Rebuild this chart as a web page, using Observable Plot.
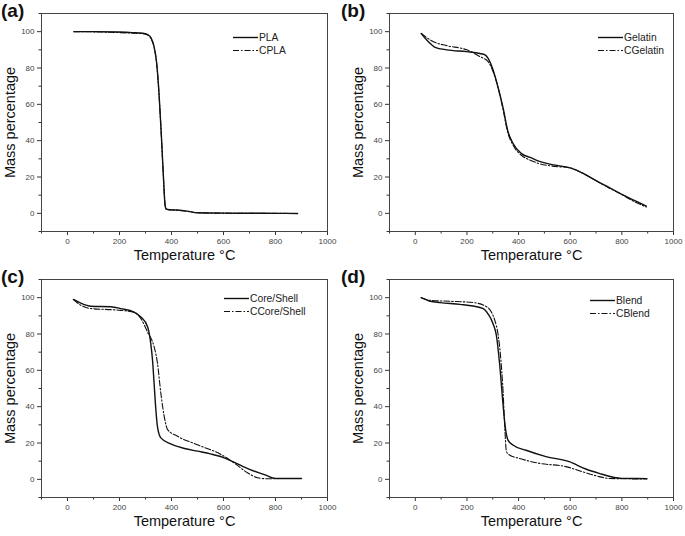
<!DOCTYPE html>
<html>
<head>
<meta charset="utf-8">
<script src="https://cdn.jsdelivr.net/npm/d3@7"></script>
<script src="https://cdn.jsdelivr.net/npm/@observablehq/plot@0.6"></script>
<style>
  html, body { margin: 0; padding: 0; background: #fff; }
  #chart { position: relative; width: 685px; height: 536px; background: #fff; font-family: "Liberation Sans", Arial, sans-serif; overflow: hidden; }
  .plabel { position: absolute; font-weight: bold; font-size: 19px; line-height: 19px; color: #111; }
  .legend { position: absolute; font-size: 10.3px; color: #222; }
  .legend .row { height: 13px; display: flex; align-items: center; white-space: nowrap; }
  .legend svg { display: block; margin-right: 1px; }
</style>
</head>
<body>
<div id="chart"></div>
<script>
// ---------- data ----------
const xLabel = "Temperature °C";
const yLabel = "Mass percentage";
const xTicksMajor = [0, 200, 400, 600, 800, 1000];
const xTicksMinor = [-100, 100, 300, 500, 700, 900];
const yTicksMajor = [0, 20, 40, 60, 80, 100];
const yTicksMinor = [-10, 10, 30, 50, 70, 90, 110];
const panelLabels = ["(a)", "(b)", "(c)", "(d)"];
const seriesNames = [["PLA", "CPLA"], ["Gelatin", "CGelatin"], ["Core/Shell", "CCore/Shell"], ["Blend", "CBlend"]];

const plaT  = [25, 100, 200, 250, 290, 310, 322, 333, 343, 352, 361, 369, 375, 379, 385, 420, 460, 500, 600, 700, 800, 885];
const plaM  = [100, 100, 99.8, 99.5, 99.1, 98.3, 96.3, 91.8, 82.6, 66, 43, 20, 5, 2.5, 2.1, 1.8, 1.2, 0.3, 0.1, 0.05, 0, -0.1];
const cplaT = [25, 100, 200, 250, 290, 310, 322, 333, 343, 352, 361, 369, 375, 379, 385, 420, 460, 500, 600, 700, 800, 885];
const cplaM = [100, 99.9, 99.5, 99.2, 98.9, 98.0, 96.0, 91.5, 82.3, 65.5, 42.5, 19.5, 4.8, 2.4, 2.0, 1.7, 1.1, 0.3, 0.1, 0.05, 0, -0.1];

const gelT  = [23, 47, 77, 122, 199, 250, 270, 282, 301, 321, 340, 359, 378, 410, 450, 481, 530, 600, 650, 700, 750, 800, 850, 895];
const gelM  = [99, 95, 91.4, 90, 89, 88, 87.2, 85.3, 79, 69, 58, 45, 38.6, 33, 30.5, 28.6, 26.8, 25, 22, 18, 14.3, 10.5, 7, 4];
const cgelT = [23, 70, 122, 199, 250, 282, 301, 321, 340, 359, 378, 410, 450, 481, 530, 600, 650, 700, 750, 800, 850, 895];
const cgelM = [99, 94.5, 92.3, 90, 86.3, 83.5, 78, 69, 57, 44, 37.7, 32, 29, 27.3, 26, 25, 22, 18, 14, 10.3, 6.3, 3.5];

const csT  = [23, 51, 90, 167, 205, 256, 282, 308, 320, 327, 333, 340, 346, 359, 397, 450, 500, 550, 600, 640, 700, 760, 800, 900];
const csM  = [99, 97, 95.3, 95, 94, 92, 89.4, 84, 75, 65.7, 53, 38, 29, 22.8, 19.5, 17, 15.5, 14, 12, 9.5, 5.5, 2.5, 0.5, 0.5];
const ccsT = [23, 51, 90, 167, 205, 256, 282, 308, 333, 346, 359, 372, 385, 423, 500, 590, 641, 692, 731, 769, 820, 897];
const ccsM = [99, 95.8, 94, 93.4, 93, 92, 88.5, 81, 73, 64, 47.4, 34.7, 27.4, 23.7, 19, 13.7, 9, 3.6, 0.9, 0.3, 0.5, 0.5];

const blT  = [23, 58, 96, 173, 224, 263, 282, 301, 314, 327, 340, 349, 359, 378, 429, 506, 596, 660, 712, 776, 801, 897];
const blM  = [100, 98, 97.3, 96.3, 95.4, 94, 91, 85.7, 79.3, 62.8, 40.8, 28, 21.6, 18.9, 16, 12.5, 9.7, 5.7, 3.3, 0.9, 0.5, 0.4];
const cblT = [23, 58, 135, 224, 276, 295, 308, 321, 331, 340, 346, 353, 365, 404, 481, 583, 647, 712, 750, 897];
const cblM = [100, 98.5, 98, 97.3, 95, 92, 87.5, 79.3, 66.5, 48, 30, 15.2, 13.4, 11.5, 8.8, 7, 4.2, 1.5, 0.5, 0.2];

// ---------- helpers ----------
const zip = (T, M) => T.map((t, i) => ({t, m: M[i]}));
const DASH = "6,2,1.5,2";
const panels = [
  {solid: zip(plaT, plaM), dash: zip(cplaT, cplaM), left: 0, top: 0, w: 340, h: 265, ml: 41, mr: 13, mt: 13, mb: 34,
   lab: [1, 1], leg: [233, 30.5]},
  {solid: zip(gelT, gelM), dash: zip(cgelT, cgelM), left: 340, top: 0, w: 345, h: 265, ml: 49, mr: 12, mt: 13, mb: 34,
   lab: [341, 1], leg: [598, 30.5]},
  {solid: zip(csT, csM), dash: zip(ccsT, ccsM), left: 0, top: 265, w: 340, h: 271, ml: 41, mr: 13, mt: 14, mb: 39,
   lab: [1, 267], leg: [224, 291.5]},
  {solid: zip(blT, blM), dash: zip(cblT, cblM), left: 340, top: 265, w: 345, h: 271, ml: 49, mr: 12, mt: 14, mb: 39,
   lab: [341, 267], leg: [590, 293.5]}
];

const chart = document.getElementById("chart");
panels.forEach((p, i) => {
  const svg = Plot.plot({
    width: p.w, height: p.h,
    marginLeft: p.ml, marginRight: p.mr, marginTop: p.mt, marginBottom: p.mb,
    style: {fontFamily: "'Liberation Sans', Arial, sans-serif", background: "transparent", overflow: "visible"},
    x: {domain: [-100, 1000]},
    y: {domain: [-10, 110]},
    marks: [
      Plot.axisX(xTicksMajor, {tickSize: 4, tickPadding: 3, fontSize: 8, tickFormat: d => String(d), label: null, stroke: "#333", fill: "#444"}),
      Plot.axisX(xTicksMinor, {tickSize: 2.5, text: null, label: null, stroke: "#333"}),
      Plot.axisY(yTicksMajor, {tickSize: 4, tickPadding: 3, fontSize: 8, tickFormat: d => String(d), label: null, stroke: "#333", fill: "#444"}),
      Plot.axisY(yTicksMinor, {tickSize: 2.5, text: null, label: null, stroke: "#333"}),
      Plot.frame({stroke: "#444", strokeWidth: 1}),
      Plot.line(p.dash, {x: "t", y: "m", curve: "monotone-x", stroke: "#111", strokeWidth: 1.1, strokeDasharray: DASH}),
      Plot.line(p.solid, {x: "t", y: "m", curve: "monotone-x", stroke: "#111", strokeWidth: 1.4}),
      Plot.text([yLabel], {text: d => d, frameAnchor: "left", rotate: -90, dx: -31, textAnchor: "middle", lineAnchor: "middle", fontSize: 14.5, fill: "#111"}),
      Plot.text([xLabel], {text: d => d, frameAnchor: "bottom", dy: 24, textAnchor: "middle", lineAnchor: "middle", fontSize: 14.5, fill: "#111"})
    ]
  });
  svg.style.position = "absolute";
  svg.style.left = p.left + "px";
  svg.style.top = p.top + "px";
  chart.appendChild(svg);

  const lab = document.createElement("div");
  lab.className = "plabel";
  lab.style.left = p.lab[0] + "px";
  lab.style.top = p.lab[1] + "px";
  lab.textContent = panelLabels[i];
  chart.appendChild(lab);

  const leg = document.createElement("div");
  leg.className = "legend";
  leg.style.left = p.leg[0] + "px";
  leg.style.top = p.leg[1] + "px";
  seriesNames[i].forEach((name, j) => {
    const row = document.createElement("div");
    row.className = "row";
    row.innerHTML = `<svg width="25" height="13"><line x1="0" x2="25" y1="6.5" y2="6.5" stroke="#111" stroke-width="${j ? 1.1 : 1.4}" ${j ? `stroke-dasharray="${DASH}"` : ""}/></svg><span>${name}</span>`;
    leg.appendChild(row);
  });
  chart.appendChild(leg);
});
</script>
</body>
</html>
